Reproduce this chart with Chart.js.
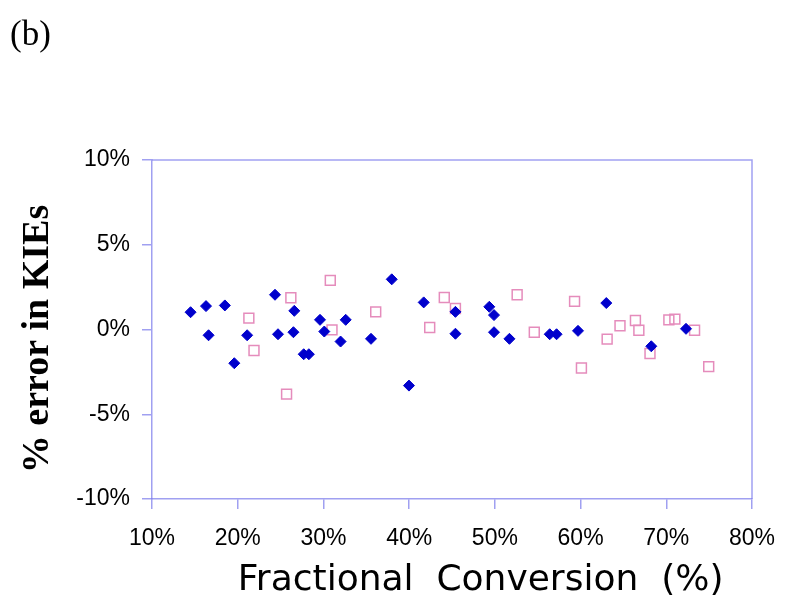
<!DOCTYPE html>
<html>
<head>
<meta charset="utf-8">
<title>% error in KIEs vs fractional conversion</title>
<script src="https://cdn.jsdelivr.net/npm/chart.js@4"></script>
<style>
  body { margin: 0; background: #fff; }
</style>
</head>
<body>
<canvas id="kieChart" width="787" height="603"></canvas>
<script>
// fractional conversion (%) and % error for the filled diamonds
const diamondX = [14.5, 16.3, 18.5, 16.6, 19.6, 21.1, 24.35, 24.7, 26.6, 26.5, 27.7, 28.3, 29.6, 30.1, 32.6, 32.0,
  35.55, 37.97, 39.98, 41.7, 45.4, 45.4, 49.35, 49.9, 49.9, 51.7, 56.4, 57.2, 59.7, 63.0, 68.25, 72.3];
const diamondY = [1.02, 1.38, 1.42, -0.34, -1.99, -0.34, 2.05, -0.28, 1.1, -0.16, -1.46, -1.46, 0.57, -0.12, 0.57, -0.71,
  -0.55, 2.96, -3.31, 1.6, 1.04, -0.25, 1.34, 0.85, -0.16, -0.55, -0.28, -0.28, -0.08, 1.56, -0.99, 0.04];

// open squares
const squareX = [21.3, 21.9, 26.2, 25.7, 30.8, 31.0, 36.1, 42.4, 44.1, 45.4, 52.6, 54.6, 59.3, 60.1, 63.1, 64.6,
  66.4, 66.8, 68.1, 70.3, 71.0, 73.3, 74.95];
const squareY = [0.67, -1.24, 1.87, -3.81, 2.9, -0.02, 1.04, 0.12, 1.89, 1.24, 2.05, -0.16, 1.66, -2.27, -0.57, 0.22,
  0.53, -0.04, -1.42, 0.57, 0.61, -0.04, -2.19];

const xTicks = [10, 20, 30, 40, 50, 60, 70, 80];
const yTicks = [-10, -5, 0, 5, 10];

const axisColor = 'rgba(120, 120, 235, 0.7)';

const toPoints = (xs, ys) => xs.map((x, i) => ({ x: x, y: ys[i] }));

// top and right frame lines of the plot box
const frame = {
  id: 'frame',
  afterDraw(chart) {
    const { ctx, chartArea: a } = chart;
    ctx.save();
    ctx.strokeStyle = axisColor;
    ctx.lineWidth = 1.5;
    ctx.beginPath();
    ctx.moveTo(a.left, a.top);
    ctx.lineTo(a.right, a.top);
    ctx.lineTo(a.right, a.bottom);
    ctx.stroke();
    ctx.restore();
  }
};

new Chart(document.getElementById('kieChart'), {
  type: 'scatter',
  data: {
    datasets: [
      {
        label: 'diamonds',
        data: toPoints(diamondX, diamondY),
        pointStyle: 'rectRot',
        pointRadius: 5.5,
        backgroundColor: '#0000cc',
        borderColor: '#0000cc',
        borderWidth: 1
      },
      {
        label: 'squares',
        data: toPoints(squareX, squareY),
        pointStyle: 'rect',
        pointRadius: 7,
        backgroundColor: 'rgba(0,0,0,0)',
        borderColor: '#e58cbc',
        borderWidth: 1.5
      }
    ]
  },
  options: {
    responsive: false,
    animation: false,
    layout: { autoPadding: false, padding: { left: 10, right: 35, top: 0, bottom: 0 } },
    plugins: {
      legend: { display: false },
      tooltip: { enabled: false },
      title: {
        display: true,
        text: '(b)',
        align: 'start',
        color: '#000',
        font: { family: '"Liberation Serif", serif', size: 35, weight: 'normal' },
        padding: { top: 15, bottom: 103 }
      }
    },
    scales: {
      x: {
        type: 'linear',
        min: 10,
        max: 80,
        afterBuildTicks: s => { s.ticks = xTicks.map(v => ({ value: v })); },
        afterFit: s => { s.height = 104; s.paddingLeft = 0; s.paddingRight = 0; },
        ticks: {
          color: '#000',
          padding: 16,
          maxRotation: 0,
          font: { family: '"Liberation Sans", Arial, sans-serif', size: 23 },
          callback: v => v + '%'
        },
        grid: { drawOnChartArea: false, tickLength: 10, color: axisColor, lineWidth: 1.5 },
        border: { color: axisColor, width: 1.5 },
        title: {
          display: true,
          text: '     Fractional  Conversion  (%)',
          color: '#000',
          font: { family: '"DejaVu Sans", sans-serif', size: 36 },
          padding: { top: 0, bottom: 1 }
        }
      },
      y: {
        type: 'linear',
        min: -10,
        max: 10,
        afterBuildTicks: s => { s.ticks = yTicks.map(v => ({ value: v })); },
        afterFit: s => { s.width = 142; },
        ticks: {
          color: '#000',
          padding: 12,
          font: { family: '"Liberation Sans", Arial, sans-serif', size: 23 },
          callback: v => v + '%'
        },
        grid: { drawOnChartArea: false, tickLength: 10, color: axisColor, lineWidth: 1.5 },
        border: { color: axisColor, width: 1.5 },
        title: {
          display: true,
          text: '% error in KIEs  ',
          color: '#000',
          font: { family: '"Liberation Serif", serif', size: 38, weight: 'bold' },
          padding: { top: 5, bottom: 0 }
        }
      }
    }
  },
  plugins: [frame]
});
</script>
</body>
</html>
